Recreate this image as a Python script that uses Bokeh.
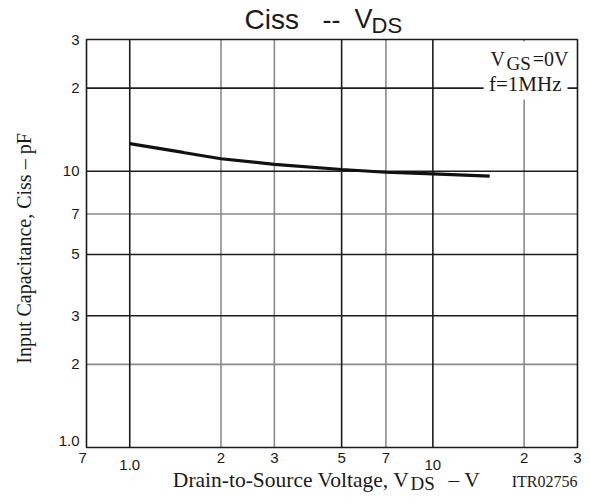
import math
from bokeh.plotting import figure
from bokeh.models import Label, Range1d
from bokeh.embed import file_html
from bokeh.resources import INLINE

# ---- data ----
vds = [1.0, 1.5, 2.0, 3.0, 5.0, 7.0, 10.0, 15.4]
ciss = [12.6, 11.7, 11.1, 10.6, 10.15, 9.92, 9.78, 9.6]

x_ticks_plain = [0.7, 2, 3, 5, 7, 20, 30]
x_labels_plain = ["7", "2", "3", "5", "7", "2", "3"]
x_ticks_decade = [1.0, 10.0]
x_labels_decade = ["1.0", "10"]
y_ticks = [1, 2, 3, 5, 7, 10, 20, 30]
y_labels = ["1.0", "2", "3", "5", "7", "10", "2", "3"]

grid_x_dark = [1, 5, 10]
grid_x_light = [2, 3, 7, 20]
grid_y_dark = [3, 5, 10, 20]
grid_y_light = [2, 7]

X_MIN, X_MAX = 0.72, 30.0
Y_MIN, Y_MAX = 1.0, 30.0

# legend box corners (data units)
box_left, box_right, box_bottom, box_top = 14.7, 27.8, 18.2, 29.5

# ---- layout (pixels) ----
W, H = 582, 495
L, R, T, B = 86, 577, 39, 447

dec_x = (R - L) / math.log10(X_MAX / X_MIN)
dec_y = (B - T) / math.log10(Y_MAX / Y_MIN)
x_start = X_MIN / 10 ** (L / dec_x)
x_end = X_MAX * 10 ** ((W - R) / dec_x)
y_start = Y_MIN / 10 ** ((H - B) / dec_y)
y_end = Y_MAX * 10 ** (T / dec_y)

SERIF = "Liberation Serif"
SANS = "Liberation Sans"
INK = "#1a1a1a"
DARK = "#1c1c1c"
LIGHT = "#8a8a8a"

p = figure(width=W, height=H, x_axis_type="log", y_axis_type="log",
           x_range=Range1d(x_start, x_end), y_range=Range1d(y_start, y_end),
           output_backend="svg", toolbar_location=None, title=None,
           x_axis_location=None, y_axis_location=None,
           min_border=0, min_border_left=0, min_border_right=0,
           min_border_top=0, min_border_bottom=0)
p.outline_line_color = None
p.background_fill_color = "white"
p.border_fill_color = "white"
p.xgrid.visible = False
p.ygrid.visible = False

# grid lines, light first then dark
p.segment(x0=grid_x_light, x1=grid_x_light, y0=[Y_MIN] * len(grid_x_light),
          y1=[Y_MAX] * len(grid_x_light), line_color=LIGHT, line_width=1.6)
p.segment(x0=[X_MIN] * len(grid_y_light), x1=[X_MAX] * len(grid_y_light),
          y0=grid_y_light, y1=grid_y_light, line_color=LIGHT, line_width=1.6)
p.segment(x0=grid_x_dark, x1=grid_x_dark, y0=[Y_MIN] * len(grid_x_dark),
          y1=[Y_MAX] * len(grid_x_dark), line_color=DARK, line_width=1.6)
p.segment(x0=[X_MIN] * len(grid_y_dark), x1=[X_MAX] * len(grid_y_dark),
          y0=grid_y_dark, y1=grid_y_dark, line_color=DARK, line_width=1.6)

# white legend box
p.quad(left=[box_left], right=[box_right], bottom=[box_bottom], top=[box_top],
       fill_color="white", line_color=None)

# curve
p.line(vds, ciss, line_color="#111111", line_width=3.2)

# plot frame
p.quad(left=[X_MIN], right=[X_MAX], bottom=[Y_MIN], top=[Y_MAX],
       fill_color=None, line_color=INK, line_width=1.6)


def lab(x, y, dx, down, text, font, size, align="left", angle=0.0):
    # 'down' = pixels below the anchor of the text's vertical centre
    p.add_layout(Label(x=x, y=y, x_offset=dx, y_offset=-down, text=text,
                       text_font=font, text_font_size=size, text_color=INK,
                       text_align=align, text_baseline="middle", angle=angle))


# tick labels
for t, s in zip(x_ticks_plain, x_labels_plain):
    lab(t, Y_MIN, 0, 10.6, s, SANS, "15px", align="center")
for t, s in zip(x_ticks_decade, x_labels_decade):
    lab(t, Y_MIN, 0, 17.6, s, SANS, "15px", align="center")
for t, s in zip(y_ticks, y_labels):
    lab(X_MIN, t, -7, -7 if t == Y_MIN else 0, s, SANS, "15px", align="right")

# legend texts (anchored at the frame's top-right corner)
lab(X_MAX, Y_MAX, -87, 19.4, "V", SERIF, "20px")
lab(X_MAX, Y_MAX, -71, 24.2, "GS", SERIF, "19px")
lab(X_MAX, Y_MAX, -9, 19.4, "=0V", SERIF, "20px", align="right")
lab(X_MAX, Y_MAX, -16, 44.2, "f=1MHz", SERIF, "21px", align="right")

# chart title (anchored at the frame's top-left corner)
lab(X_MIN, Y_MAX, 158, -20.4, "Ciss", SANS, "28px")
lab(X_MIN, Y_MAX, 236, -20.4, "--", SANS, "27px")
lab(X_MIN, Y_MAX, 268, -20.4, "V", SANS, "27px")
lab(X_MIN, Y_MAX, 285, -14.2, "DS", SANS, "22px")

# x-axis title (anchored at the frame's bottom-left corner)
lab(X_MIN, Y_MIN, 323, 32, "Drain-to-Source Voltage, V", SERIF, "21.5px",
    align="right")
lab(X_MIN, Y_MIN, 324, 35.5, "DS", SERIF, "19px")
lab(X_MIN, Y_MIN, 362, 32, "\u2013  V", SERIF, "21.5px")
lab(X_MAX, Y_MIN, 0, 33.7, "ITR02756", SERIF, "16px", align="right")

# y-axis title
lab(X_MIN, math.sqrt(Y_MIN * Y_MAX), -62.5, 0,
    "Input Capacitance, Ciss  \u2013  pF", SERIF, "20px",
    align="center", angle=math.pi / 2)

open("out.html", "w").write(file_html(p, INLINE))
